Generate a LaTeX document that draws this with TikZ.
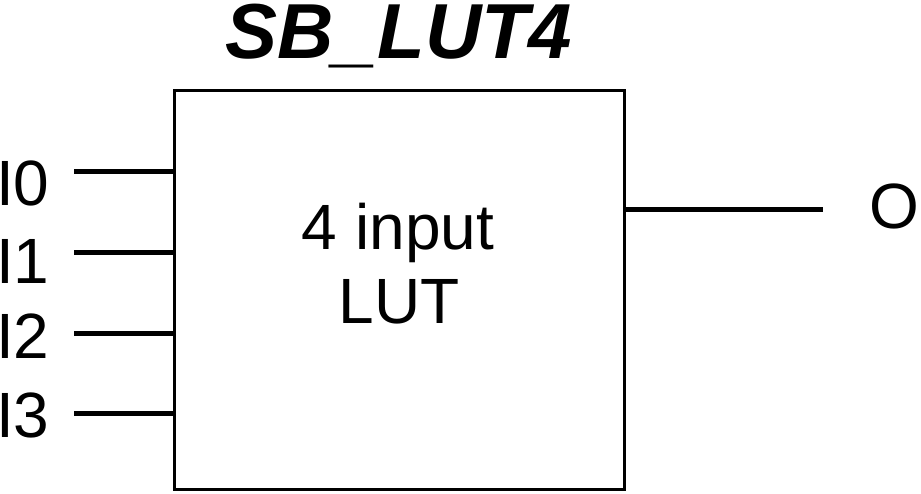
\documentclass[tikz,border=0pt]{standalone}
\usepackage{fontspec}
\setmainfont{Liberation Sans}
\begin{document}
\begin{tikzpicture}[x=1pt,y=-1pt,
  lbl/.style={inner sep=0pt, font=\fontsize{64}{74}\selectfont},
  wire/.style={line width=5pt},
  lutbox/.style={draw, line width=3pt, minimum width=450pt, minimum height=399pt, inner sep=0pt}]
\useasboundingbox (0,0) rectangle (921,493);
\node[lutbox] (lut) at (399,289.5) {};
\node[inner sep=0pt, anchor=base, font=\fontsize{78}{90}\selectfont\bfseries\itshape] (title) at (399,58) {SB\_LUT4};
\node[lbl, anchor=base] (txt1) at (398,249) {4 input};
\node[lbl, anchor=base] (txt2) at (399,323) {LUT};
\node[lbl, anchor=base west] (l0) at (-4,205) {I0};
\node[lbl, anchor=base west] (l1) at (-4,283) {I1};
\node[lbl, anchor=base west] (l2) at (-4,358) {I2};
\node[lbl, anchor=base west] (l3) at (-4,437) {I3};
\node[lbl, anchor=base west] (lo) at (869,228) {O};
\coordinate (a0) at (74,171);
\coordinate (a1) at (74,252);
\coordinate (a2) at (74,333);
\coordinate (a3) at (74,413);
\coordinate (ao) at (823,209);
\draw[wire] (a0) -- (a0 -| lut.west);
\draw[wire] (a1) -- (a1 -| lut.west);
\draw[wire] (a2) -- (a2 -| lut.west);
\draw[wire] (a3) -- (a3 -| lut.west);
\draw[wire] (ao -| lut.east) -- (ao);
\end{tikzpicture}
\end{document}
